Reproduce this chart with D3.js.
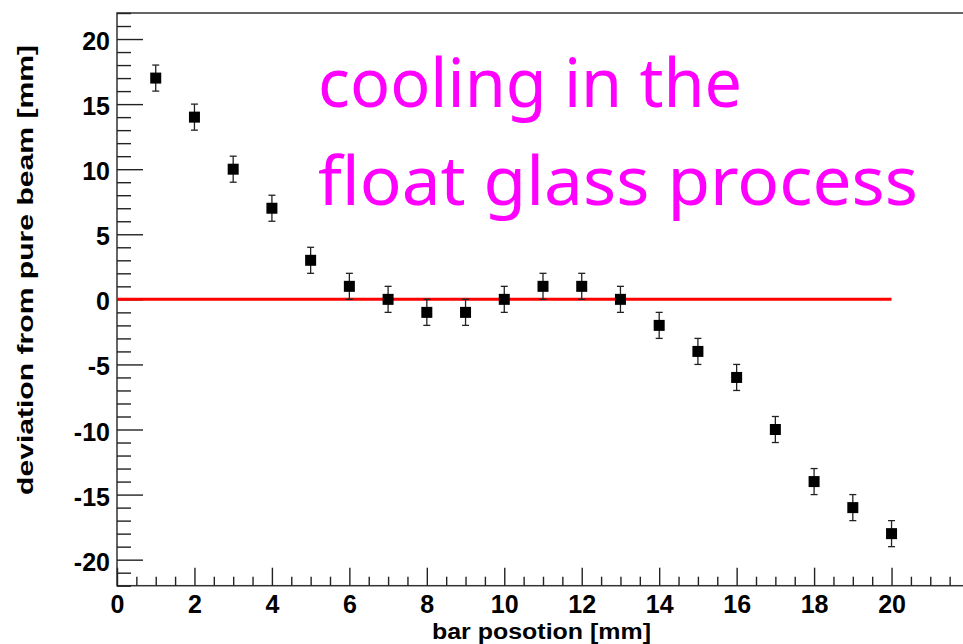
<!DOCTYPE html>
<html>
<head>
<meta charset="utf-8">
<script src="https://cdn.jsdelivr.net/npm/d3@7"></script>
<style>
  body { margin: 0; background: #fff; }
  svg { display: block; }
</style>
</head>
<body>
<div id="chart"></div>
<script>
  // data
  var barPos = [1, 2, 3, 4, 5, 6, 7, 8, 9, 10, 11, 12, 13, 14, 15, 16, 17, 18, 19, 20];
  var deviation = [17, 14, 10, 7, 3, 1, 0, -1, -1, 0, 1, 1, 0, -2, -4, -6, -10, -14, -16, -18];
  var errY = [1, 1, 1, 1, 1, 1, 1, 1, 1, 1, 1, 1, 1, 1, 1, 1, 1, 1, 1, 1];
  var xMajor = [0, 2, 4, 6, 8, 10, 12, 14, 16, 18, 20];
  var yMajor = [-20, -15, -10, -5, 0, 5, 10, 15, 20];
  var refLine = [0, 20];
  var note = ['cooling in the', 'float glass process'];

  var W = 963, H = 644;
  var frame = { left: 117, top: 13, bottom: 585.7, right: 969 };

  var svg = d3.select('#chart')
    .append('svg')
    .attr('width', W)
    .attr('height', H);

  var x = d3.scaleLinear().domain([0, 22]).range([frame.left, frame.right]);
  var y = d3.scaleLinear().domain([-22, 22]).range([frame.bottom, frame.top]);

  var xMinor = d3.range(0, 22.01, 0.5).filter(function(v) { return v % 2 !== 0; });
  var yMinor = d3.range(-22, 22.01, 1).filter(function(v) { return v % 5 !== 0; });

  // frame
  svg.append('rect')
    .attr('x', frame.left).attr('y', frame.top)
    .attr('width', frame.right - frame.left).attr('height', frame.bottom - frame.top)
    .attr('fill', 'none')
    .attr('stroke', '#333')
    .attr('stroke-width', 1.5);

  // x axis (ticks pointing up)
  var gx = svg.append('g').attr('transform', 'translate(0,' + frame.bottom + ')');
  gx.append('g')
    .call(d3.axisBottom(x).tickValues(xMinor).tickSize(-9).tickFormat(''))
    .call(function(g) { g.select('.domain').remove(); });
  gx.append('g')
    .call(d3.axisBottom(x).tickValues(xMajor).tickSize(-18).tickFormat(String))
    .call(function(g) { g.select('.domain').remove(); });
  gx.selectAll('line').attr('stroke', '#222').attr('stroke-width', 1.4);
  gx.selectAll('text')
    .attr('font-family', 'Liberation Sans, Arial, sans-serif')
    .attr('font-weight', 'bold')
    .attr('font-size', 25)
    .attr('fill', '#000')
    .attr('dy', '0')
    .attr('y', 27);

  // y axis (ticks pointing right)
  var gy = svg.append('g').attr('transform', 'translate(' + frame.left + ',0)');
  gy.append('g')
    .call(d3.axisLeft(y).tickValues(yMinor).tickSize(-14).tickFormat(''))
    .call(function(g) { g.select('.domain').remove(); });
  gy.append('g')
    .call(d3.axisLeft(y).tickValues(yMajor).tickSize(-26).tickFormat(String))
    .call(function(g) { g.select('.domain').remove(); });
  gy.selectAll('line').attr('stroke', '#222').attr('stroke-width', 1.4);
  gy.selectAll('text')
    .attr('font-family', 'Liberation Sans, Arial, sans-serif')
    .attr('font-weight', 'bold')
    .attr('font-size', 25)
    .attr('fill', '#000')
    .attr('x', -7)
    .attr('dy', '0.42em');

  // axis titles
  svg.append('text')
    .attr('x', 651).attr('y', 639)
    .attr('text-anchor', 'end')
    .attr('font-family', 'Liberation Sans, Arial, sans-serif')
    .attr('font-weight', 'bold')
    .attr('font-size', 22)
    .attr('textLength', 219)
    .attr('lengthAdjust', 'spacingAndGlyphs')
    .text('bar posotion [mm]');

  svg.append('text')
    .attr('transform', 'translate(33,45) rotate(-90)')
    .attr('text-anchor', 'end')
    .attr('font-family', 'Liberation Sans, Arial, sans-serif')
    .attr('font-weight', 'bold')
    .attr('font-size', 22)
    .attr('textLength', 450)
    .attr('lengthAdjust', 'spacingAndGlyphs')
    .text('deviation from pure beam [mm]');

  // red reference line at zero
  svg.append('line')
    .attr('x1', x(refLine[0])).attr('x2', x(refLine[1]))
    .attr('y1', y(0)).attr('y2', y(0))
    .attr('stroke', '#ff0000')
    .attr('stroke-width', 3);

  // error bars
  var pts = barPos.map(function(p, i) { return { x: p, y: deviation[i], e: errY[i] }; });
  var eb = svg.selectAll('.err')
    .data(pts)
    .enter().append('g')
    .attr('class', 'err')
    .attr('stroke', '#222')
    .attr('stroke-width', 1.3);
  eb.append('line')
    .attr('x1', function(d) { return x(d.x); })
    .attr('x2', function(d) { return x(d.x); })
    .attr('y1', function(d) { return y(d.y - d.e); })
    .attr('y2', function(d) { return y(d.y + d.e); });
  eb.append('line')
    .attr('x1', function(d) { return x(d.x) - 3.5; })
    .attr('x2', function(d) { return x(d.x) + 3.5; })
    .attr('y1', function(d) { return y(d.y + d.e); })
    .attr('y2', function(d) { return y(d.y + d.e); });
  eb.append('line')
    .attr('x1', function(d) { return x(d.x) - 3.5; })
    .attr('x2', function(d) { return x(d.x) + 3.5; })
    .attr('y1', function(d) { return y(d.y - d.e); })
    .attr('y2', function(d) { return y(d.y - d.e); });

  // square markers
  svg.selectAll('.pt')
    .data(pts)
    .enter().append('rect')
    .attr('class', 'pt')
    .attr('x', function(d) { return x(d.x) - 5.5; })
    .attr('y', function(d) { return y(d.y) - 5.5; })
    .attr('width', 11)
    .attr('height', 11)
    .attr('fill', '#000');

  // magenta annotation
  var noteX = [318, 318], noteY = [107, 205], noteW = [424, 600];
  svg.selectAll('.note')
    .data(note)
    .enter().append('text')
    .attr('class', 'note')
    .attr('x', function(d, i) { return noteX[i]; })
    .attr('y', function(d, i) { return noteY[i]; })
    .attr('font-family', 'Noto Sans, DejaVu Sans, sans-serif')
    .attr('font-size', 68)
    .attr('fill', '#ff00ff')
    .attr('textLength', function(d, i) { return noteW[i]; })
    .attr('lengthAdjust', 'spacingAndGlyphs')
    .text(function(d) { return d; });
</script>
</body>
</html>
